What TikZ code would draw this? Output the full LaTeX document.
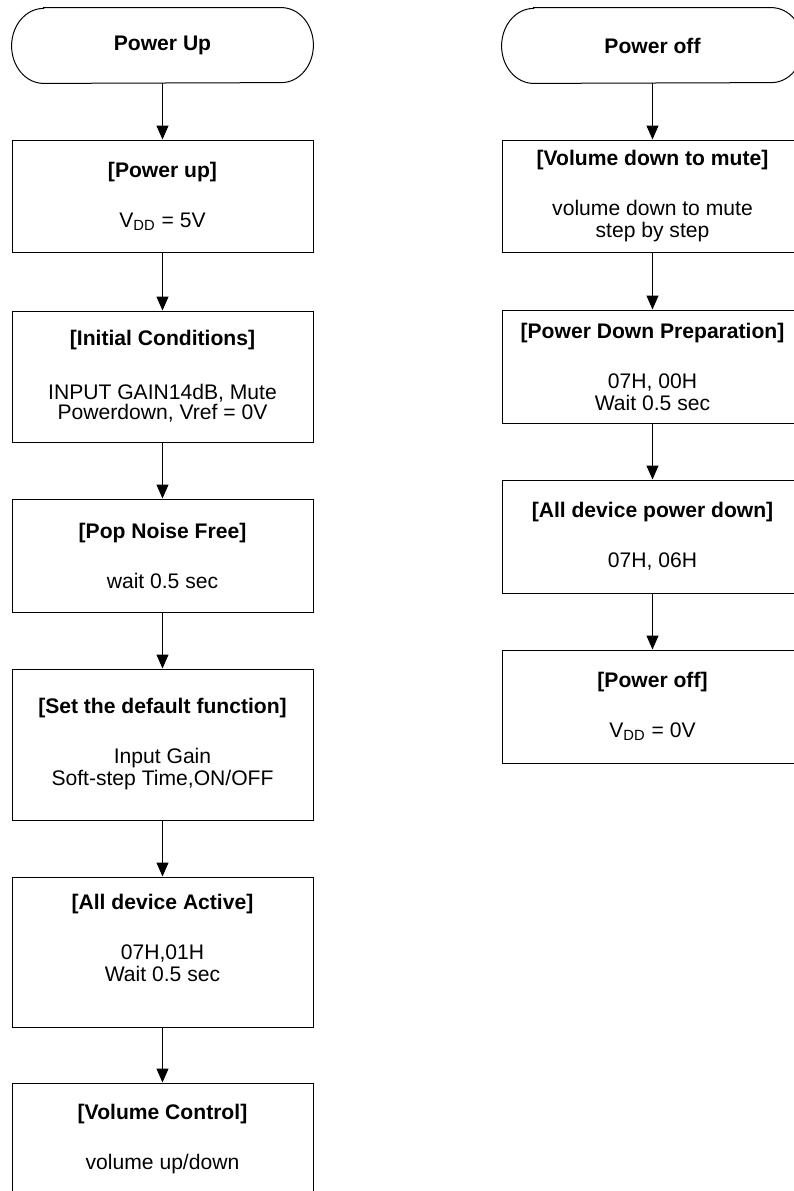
\documentclass[tikz,border=0pt]{standalone}
\usepackage{fontspec}
\setmainfont{Liberation Sans}
\usetikzlibrary{arrows.meta}

% stadium outline round a terminal node
\newcommand\stadium[1]{%
  \draw[line width=0.5pt] ([xshift=16pt]#1.north west) -- ([xshift=-16pt]#1.north east)
    arc[start angle=90, end angle=-90, x radius=16pt, y radius=18.75pt]
    -- ([xshift=16pt]#1.south west)
    arc[start angle=270, end angle=90, x radius=16pt, y radius=18.75pt] -- cycle;}

\begin{document}
\begin{tikzpicture}[x=0.5pt, y=-0.5pt,
    every node/.style={font=\fontsize{10.55}{11}\selectfont},
    terminal/.style={minimum width=150.5pt, minimum height=37.5pt, inner sep=0pt, font=\fontsize{10.55}{11}\selectfont\bfseries},
    stepbox/.style={draw, line width=0.5pt, minimum width=150.5pt, inner sep=0pt, align=center},
    flow/.style={line width=0.5pt, -{Triangle[width=6pt, length=7pt]}}]
	\useasboundingbox (0,0) rectangle (794,1191);
	\clip (0,0) rectangle (794,1191);
	% power up sequence
	\node[terminal] (pu) at (162.5,45.5) {Power Up};
	\stadium{pu}
	\node[stepbox, minimum height=56pt] (pwr) at (162.5,196) {\textbf{[Power up]}\\[14pt]V\textsubscript{DD} = 5V};
	\node[stepbox, minimum height=65.5pt, font=\fontsize{10.55}{8.5}\selectfont] (init) at (162.5,376.5) {\textbf{[Initial Conditions]}\\[16pt]INPUT GAIN14dB, Mute\\Powerdown, Vref = 0V};
	\node[stepbox, minimum height=56.5pt] (pop) at (162.5,555.5) {\textbf{[Pop Noise Free]}\\[14pt]wait 0.5 sec};
	\node[stepbox, minimum height=75.5pt] (dflt) at (162.5,744.5) {\textbf{[Set the default function]}\\[14pt]Input Gain\\Soft-step Time,ON/OFF};
	\node[stepbox, minimum height=75pt, text depth=14pt] (act) at (162.5,952) {\textbf{[All device Active]}\\[14pt]07H,01H\\Wait 0.5 sec};
	\node[stepbox, minimum height=56.5pt] (vol) at (162.5,1139.5) {\textbf{[Volume Control]}\\[14pt]volume up/down};
	\draw[flow] (pu) -- (pwr);
	\draw[flow] (pwr) -- (init);
	\draw[flow] (init) -- (pop);
	\draw[flow] (pop) -- (dflt);
	\draw[flow] (dflt) -- (act);
	\draw[flow] (act) -- (vol);
	% power off sequence
	\node[terminal] (po) at (652.5,45.5) {Power off};
	\stadium{po}
	\node[stepbox, minimum height=56pt] (mute) at (652.5,196) {\textbf{[Volume down to mute]}\\[14pt]volume down to mute\\step by step};
	\node[stepbox, minimum height=56.5pt] (prep) at (652.5,366.5) {\textbf{[Power Down Preparation]}\\[14pt]07H, 00H\\Wait 0.5 sec};
	\node[stepbox, minimum height=56.5pt] (pdn) at (652.5,536.5) {\textbf{[All device power down]}\\[14pt]07H, 06H};
	\node[stepbox, minimum height=56.5pt] (off) at (652.5,706.5) {\textbf{[Power off]}\\[14pt]V\textsubscript{DD} = 0V};
	\draw[flow] (po) -- (mute);
	\draw[flow] (mute) -- (prep);
	\draw[flow] (prep) -- (pdn);
	\draw[flow] (pdn) -- (off);
\end{tikzpicture}
\end{document}
